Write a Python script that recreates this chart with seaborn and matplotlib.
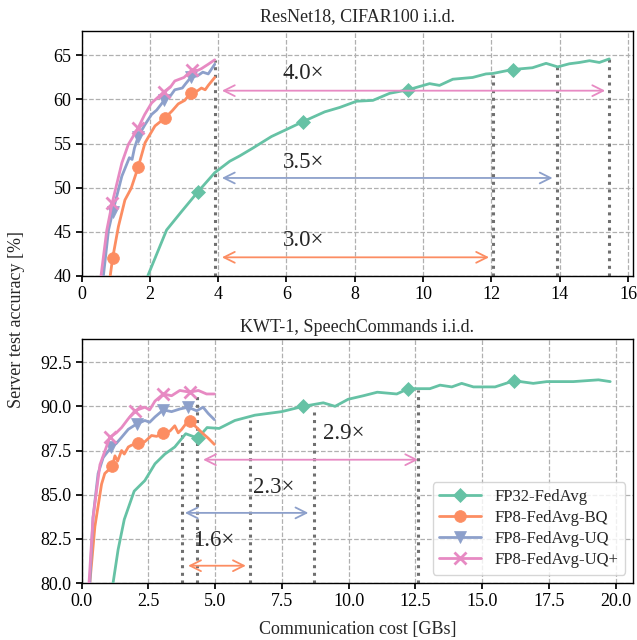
import matplotlib
matplotlib.use("Agg")
import matplotlib.pyplot as plt
import seaborn as sns
from matplotlib.ticker import FormatStrFormatter, MultipleLocator

# ---------------- data ----------------
series_names = ["FP32-FedAvg", "FP8-FedAvg-BQ", "FP8-FedAvg-UQ", "FP8-FedAvg-UQ+"]

# Top: ResNet18, CIFAR100 i.i.d.
top_fp32_x = [1.94, 2.49, 2.93, 3.40, 3.90, 4.34, 4.63, 5.02, 5.56, 6.00, 6.49, 7.12, 7.56, 8.05, 8.53, 9.02,
              9.56, 10.19, 10.48, 10.87, 11.45, 11.84, 12.04, 12.62, 13.20, 13.60, 13.94, 14.28, 14.58, 14.87,
              15.16, 15.45]
top_fp32_y = [40.0, 45.2, 47.3, 49.5, 51.7, 53.0, 53.6, 54.5, 55.8, 56.6, 57.5, 58.6, 59.1, 59.8, 59.9, 60.7,
              61.1, 61.8, 61.6, 62.3, 62.5, 62.9, 62.95, 63.4, 63.6, 64.1, 63.7, 64.05, 64.2, 64.4, 64.2, 64.6]
top_fp32_mk = [3, 10, 16, 23]

top_bq_x = [0.84, 0.91, 1.08, 1.27, 1.45, 1.66, 1.86, 2.15, 2.44, 2.65, 2.83, 3.02, 3.20, 3.40, 3.51, 3.62, 3.71, 3.90]
top_bq_y = [40.0, 42.0, 45.6, 48.6, 49.9, 52.35, 55.1, 57.0, 57.9, 58.7, 59.5, 59.9, 60.75, 61.0, 61.3, 61.1, 61.6, 62.5]
top_bq_mk = [1, 5, 8, 12]

top_uq_x = [0.64, 0.79, 0.91, 1.18, 1.40, 1.48, 1.55, 1.66, 1.85, 2.05, 2.20, 2.42, 2.60, 2.73, 2.95, 3.05, 3.20,
            3.40, 3.55, 3.71, 3.90]
top_uq_y = [40.0, 45.2, 47.2, 51.3, 53.4, 53.2, 54.5, 55.8, 57.1, 58.3, 58.8, 59.9, 60.4, 61.1, 61.3, 61.8, 62.5,
            62.7, 63.1, 62.9, 64.0]
top_uq_mk = [2, 7, 11, 16]

top_uqp_x = [0.57, 0.74, 0.90, 1.18, 1.37, 1.66, 1.85, 2.05, 2.42, 2.60, 2.73, 3.00, 3.22, 3.40, 3.51, 3.71, 3.90]
top_uqp_y = [40.0, 45.2, 48.3, 52.8, 54.9, 56.8, 58.3, 59.6, 60.9, 61.4, 62.1, 62.5, 63.3, 63.3, 63.5, 64.0, 64.5]
top_uqp_mk = [2, 5, 8, 12]

top_vline_x = [3.92, 12.05, 13.93, 15.45]
top_vline_top = [64.5, 62.8, 64.0, 64.6]
top_arrow_start = [4.11, 4.11, 4.11]          # pink, blue, orange
top_arrow_end = [15.33, 13.79, 11.93]
top_arrow_y = [61.0, 51.1, 42.1]
top_ratio_labels = ["4.0×", "3.5×", "3.0×"]
top_ratio_x = [6.5, 6.5, 6.5]
top_ratio_y = [62.9, 52.9, 44.0]

# Bottom: KWT-1, SpeechCommands i.i.d.
bot_fp32_x = [1.18, 1.37, 1.60, 1.97, 2.37, 2.75, 3.12, 3.49, 3.90, 4.35, 4.70, 5.15, 5.74, 6.49, 7.49, 8.30, 9.05,
              9.49, 9.98, 10.55, 11.07, 11.80, 12.23, 13.04, 13.42, 13.86, 14.23, 14.67, 15.48, 16.19, 16.91, 17.42,
              18.41, 19.35, 19.79]
bot_fp32_y = [80.0, 81.9, 83.6, 85.2, 85.8, 86.75, 87.3, 87.7, 88.45, 88.2, 88.8, 88.75, 89.2, 89.5, 89.7, 90.0,
              90.2, 90.0, 90.4, 90.6, 90.8, 90.7, 91.0, 91.0, 91.2, 91.1, 91.3, 91.1, 91.1, 91.45, 91.3, 91.4,
              91.4, 91.5, 91.4]
bot_fp32_mk = [9, 15, 22, 29]

bot_bq_x = [0.31, 0.50, 0.75, 0.87, 1.15, 1.25, 1.35, 1.50, 1.60, 1.75, 1.87, 2.10, 2.37, 2.62, 2.81, 3.06, 3.31,
            3.49, 3.62, 3.75, 3.90, 4.06, 4.31, 4.55, 4.74, 4.97]
bot_bq_y = [80.0, 83.2, 85.6, 86.2, 86.6, 87.2, 86.9, 87.5, 87.3, 87.7, 87.8, 87.9, 88.0, 88.35, 88.3, 88.5, 88.6,
            88.9, 88.5, 88.7, 89.0, 89.15, 88.8, 88.45, 88.2, 87.85]
bot_bq_mk = [4, 11, 15, 21]

bot_uq_x = [0.31, 0.43, 0.62, 0.81, 1.12, 1.30, 1.50, 1.75, 2.06, 2.37, 2.55, 2.75, 3.06, 3.37, 3.68, 3.99, 4.31,
            4.55, 4.74, 4.97]
bot_uq_y = [80.0, 83.7, 86.2, 87.1, 87.7, 87.9, 88.25, 88.7, 89.0, 89.2, 89.1, 89.4, 89.8, 89.7, 89.85, 89.95,
            89.75, 89.95, 89.6, 89.25]
bot_uq_mk = [4, 8, 12, 15]

bot_uqp_x = [0.28, 0.43, 0.69, 1.06, 1.30, 1.50, 1.75, 2.00, 2.37, 2.55, 2.75, 3.06, 3.37, 3.68, 4.06, 4.37, 4.68, 4.97]
bot_uqp_y = [80.0, 83.7, 86.7, 88.25, 88.5, 88.8, 89.3, 89.75, 89.95, 89.8, 90.3, 90.7, 90.6, 90.9, 90.8, 90.9,
             90.7, 90.7]
bot_uqp_mk = [3, 7, 11, 14]

bot_vline_x = [3.77, 4.33, 6.30, 8.70, 12.61]
bot_vline_top = [88.6, 90.8, 89.2, 89.7, 90.9]
bot_arrow_start = [4.55, 3.87, 3.99]          # pink, blue, orange
bot_arrow_end = [12.60, 8.49, 6.15]
bot_arrow_y = [86.98, 83.97, 80.98]
bot_ratio_labels = ["2.9×", "2.3×", "1.6×"]
bot_ratio_x = [9.82, 7.18, 4.96]
bot_ratio_y = [88.45, 85.43, 82.39]

# ---------------- style ----------------
FS = 13
sns.set_theme(style="whitegrid")
plt.rcParams["font.family"] = ["Liberation Serif", "DejaVu Serif"]
plt.rcParams.update({
    "font.size": FS,
    "axes.edgecolor": "black",
    "axes.linewidth": 1.0,
    "grid.linestyle": "--",
    "grid.color": "#b0b0b0",
    "grid.linewidth": 0.9,
    "xtick.bottom": True,
    "ytick.left": True,
    "xtick.color": "black",
    "ytick.color": "black",
    "xtick.labelsize": FS,
    "ytick.labelsize": FS,
    "xtick.major.size": 4.3,
    "ytick.major.size": 4.3,
    "xtick.major.pad": 3.0,
    "ytick.major.pad": 3.0,
    "axes.titlesize": FS,
    "axes.labelsize": FS,
    "legend.fontsize": 12,
})

pal = sns.color_palette("Set2", 4)
markers = ["D", "o", "v", "x"]
msizes = [7.5, 8.5, 8.5, 8.0]
mews = [0.5, 0.5, 0.5, 2.0]

fig = plt.figure(figsize=(6.37, 6.40), dpi=100)
ax1 = fig.add_axes([0.128, 0.569, 0.866, 0.383])
ax2 = fig.add_axes([0.128, 0.089, 0.866, 0.381])


def draw(ax, xs, ys, mks, vx, vtop, ymin, a_start, a_end, a_y, r_lab, r_x, r_y):
    for i in range(4):
        sns.lineplot(x=xs[i], y=ys[i], ax=ax, color=pal[i], lw=2.0, marker=markers[i],
                     markevery=mks[i], markersize=msizes[i], markeredgecolor=pal[i],
                     markeredgewidth=mews[i], label=series_names[i], sort=False,
                     estimator=None, zorder=3)
    ax.vlines(vx, ymin, vtop, colors="#707070", linestyles=(0, (1, 1.5)), lw=2.2, zorder=2)
    arrow_cols = [pal[3], pal[2], pal[1]]
    for k in range(3):
        ax.annotate("", xy=(a_end[k], a_y[k]), xytext=(a_start[k], a_y[k]),
                    arrowprops=dict(arrowstyle="<->,head_length=0.6,head_width=0.3",
                                    color=arrow_cols[k], lw=1.3, shrinkA=0, shrinkB=0),
                    zorder=4)
        ax.text(r_x[k], r_y[k], r_lab[k], fontsize=16.5, ha="center", va="center", zorder=5)
    ax.set_xlabel("")
    ax.set_ylabel("")


draw(ax1, [top_fp32_x, top_bq_x, top_uq_x, top_uqp_x],
     [top_fp32_y, top_bq_y, top_uq_y, top_uqp_y],
     [top_fp32_mk, top_bq_mk, top_uq_mk, top_uqp_mk],
     top_vline_x, top_vline_top, 40, top_arrow_start, top_arrow_end, top_arrow_y,
     top_ratio_labels, top_ratio_x, top_ratio_y)
draw(ax2, [bot_fp32_x, bot_bq_x, bot_uq_x, bot_uqp_x],
     [bot_fp32_y, bot_bq_y, bot_uq_y, bot_uqp_y],
     [bot_fp32_mk, bot_bq_mk, bot_uq_mk, bot_uqp_mk],
     bot_vline_x, bot_vline_top, 80, bot_arrow_start, bot_arrow_end, bot_arrow_y,
     bot_ratio_labels, bot_ratio_x, bot_ratio_y)

ax1.set_xlim(0, 16.15)
ax1.set_ylim(40, 67.8)
ax1.xaxis.set_major_locator(MultipleLocator(2))
ax1.yaxis.set_major_locator(MultipleLocator(5))
ax1.set_title("ResNet18, CIFAR100 i.i.d.", pad=7)
if ax1.legend_ is not None:
    ax1.legend_.remove()

ax2.set_xlim(0, 20.65)
ax2.set_ylim(80, 93.8)
ax2.xaxis.set_major_locator(MultipleLocator(2.5))
ax2.yaxis.set_major_locator(MultipleLocator(2.5))
ax2.xaxis.set_major_formatter(FormatStrFormatter("%.1f"))
ax2.yaxis.set_major_formatter(FormatStrFormatter("%.1f"))
ax2.set_title("KWT-1, SpeechCommands i.i.d.", pad=5)
ax2.set_xlabel("Communication cost [GBs]", labelpad=8)
ax2.legend(loc="lower right", handlelength=2.5, frameon=True, fancybox=True,
           framealpha=0.8, edgecolor="#cccccc", borderpad=0.4, labelspacing=0.3)

for ax in (ax1, ax2):
    for s in ax.spines.values():
        s.set_color("black")
        s.set_linewidth(1.0)
    ax.grid(True, linestyle="--", color="#b0b0b0", lw=0.9)

fig.text(0.026, 0.5, "Server test accuracy [%]", rotation=90, ha="center", va="center", fontsize=FS)

fig.savefig("out.png", dpi=100)
